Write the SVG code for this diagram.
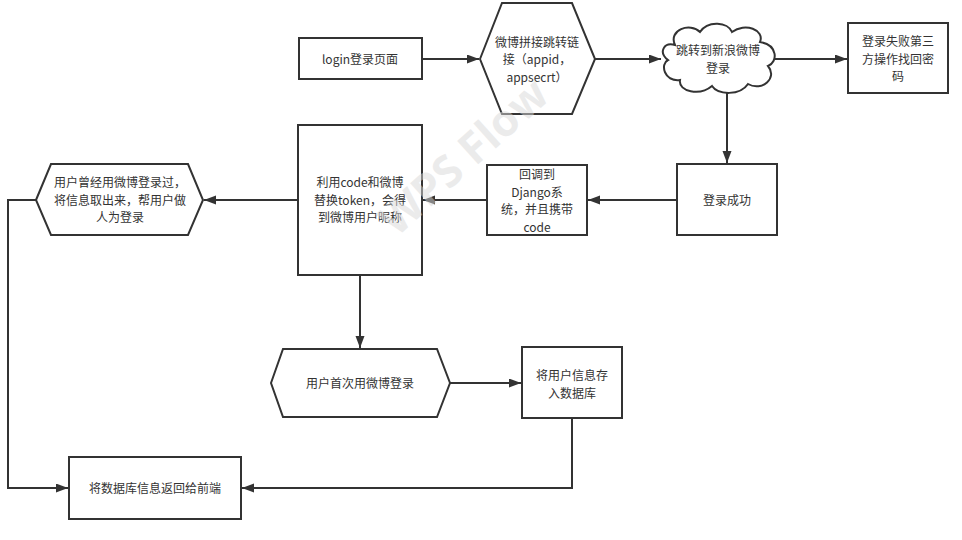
<svg xmlns="http://www.w3.org/2000/svg" width="962" height="540" viewBox="0 0 962 540">
<defs>
<marker id="arr" markerWidth="13" markerHeight="10" refX="12" refY="4.5" orient="auto" markerUnits="userSpaceOnUse">
<path d="M0,0 L12,4.5 L0,9 Z" fill="#333"/>
</marker>
<style>
.n{fill:#fff;stroke:#333;stroke-width:2}
.t{font-family:"Noto Sans CJK SC","Microsoft YaHei",sans-serif;font-size:12px;fill:#333;text-anchor:middle}
.c{fill:none;stroke:#333;stroke-width:2;marker-end:url(#arr)}
.wm{font-family:"Open Sans","DejaVu Sans",sans-serif;font-weight:bold;font-size:44px;fill:#d8d8d8;fill-opacity:0.5;text-anchor:middle}
</style>
</defs>
<rect width="962" height="540" fill="#fff"/>
<g id="connectors">
<path class="c" d="M422,59 L479,59"/>
<path class="c" d="M595,59 L661,59"/>
<path class="c" d="M775,59 L847,59"/>
<path class="c" d="M727,92 L727,163"/>
<path class="c" d="M677,200 L588,200"/>
<path class="c" d="M487,200 L423,200"/>
<path class="c" d="M298,200 L204,200"/>
<path class="c" d="M360,275 L360,348"/>
<path class="c" d="M450,383 L521,383"/>
<path class="c" d="M36,200 L8,200 L8,488 L68,488"/>
<path class="c" d="M572,418 L572,488 L242,488"/>
</g>
<g id="login">
<rect class="n" x="299" y="38" width="123" height="41"/>
<text class="t" x="360" y="63.5">login登录页面</text>
</g>
<g id="weibo_link">
<polygon class="n" points="480,59 502,3 572,3 595,59 572,114 502,114"/>
<text class="t" x="537" y="46.5">微博拼接跳转链<tspan x="537" dy="17.5">接（appid，</tspan><tspan x="537" dy="17.5">appsecrt）</tspan></text>
</g>
<g id="sina_cloud">
<path class="n" d="M675,45 C668,30 690,22 700,32 C708,20 728,22 732,32 C745,22 765,30 760,42 C778,45 778,62 768,66 C778,78 762,92 748,84 C740,96 718,95 712,86 C700,96 678,92 680,80 C664,82 660,64 668,60 C658,52 664,42 675,45 Z"/>
<text class="t" x="718" y="55">跳转到新浪微博<tspan x="718" dy="17.5">登录</tspan></text>
</g>
<g id="login_fail">
<rect class="n" x="848" y="23" width="100" height="70"/>
<text class="t" x="898" y="46">登录失败第三<tspan x="898" dy="17.5">方操作找回密</tspan><tspan x="898" dy="17.5">码</tspan></text>
</g>
<g id="login_ok">
<rect class="n" x="677" y="164" width="100" height="71"/>
<text class="t" x="727" y="204.5">登录成功</text>
</g>
<g id="callback">
<rect class="n" x="487" y="165" width="100" height="70"/>
<text class="t" x="537" y="179">回调到<tspan x="537" dy="17.5">Django系</tspan><tspan x="537" dy="17.5">统，并且携带</tspan><tspan x="537" dy="17.5">code</tspan></text>
</g>
<g id="token">
<rect class="n" x="298" y="125" width="124" height="150"/>
<text class="t" x="360" y="187">利用code和微博<tspan x="360" dy="17.5">替换token，会得</tspan><tspan x="360" dy="17.5">到微博用户昵称</tspan></text>
</g>
<g id="existing_user">
<polygon class="n" points="36,200 51,164 188,164 203,200 188,235 51,235"/>
<text class="t" x="120" y="187">用户曾经用微博登录过，<tspan x="120" dy="17.5">将信息取出来，帮用户做</tspan><tspan x="120" dy="17.5">人为登录</tspan></text>
</g>
<g id="first_login">
<polygon class="n" points="271,383 283,349 437,349 450,383 437,417 283,417"/>
<text class="t" x="360" y="387.5">用户首次用微博登录</text>
</g>
<g id="save_db">
<rect class="n" x="522" y="347" width="100" height="71"/>
<text class="t" x="572" y="380">将用户信息存<tspan x="572" dy="17.5">入数据库</tspan></text>
</g>
<g id="return_front">
<rect class="n" x="69" y="457" width="172" height="62"/>
<text class="t" x="155" y="492.5">将数据库信息返回给前端</text>
</g>
<text class="wm" transform="translate(474,168) rotate(-42)">WPS Flow</text>
</svg>
